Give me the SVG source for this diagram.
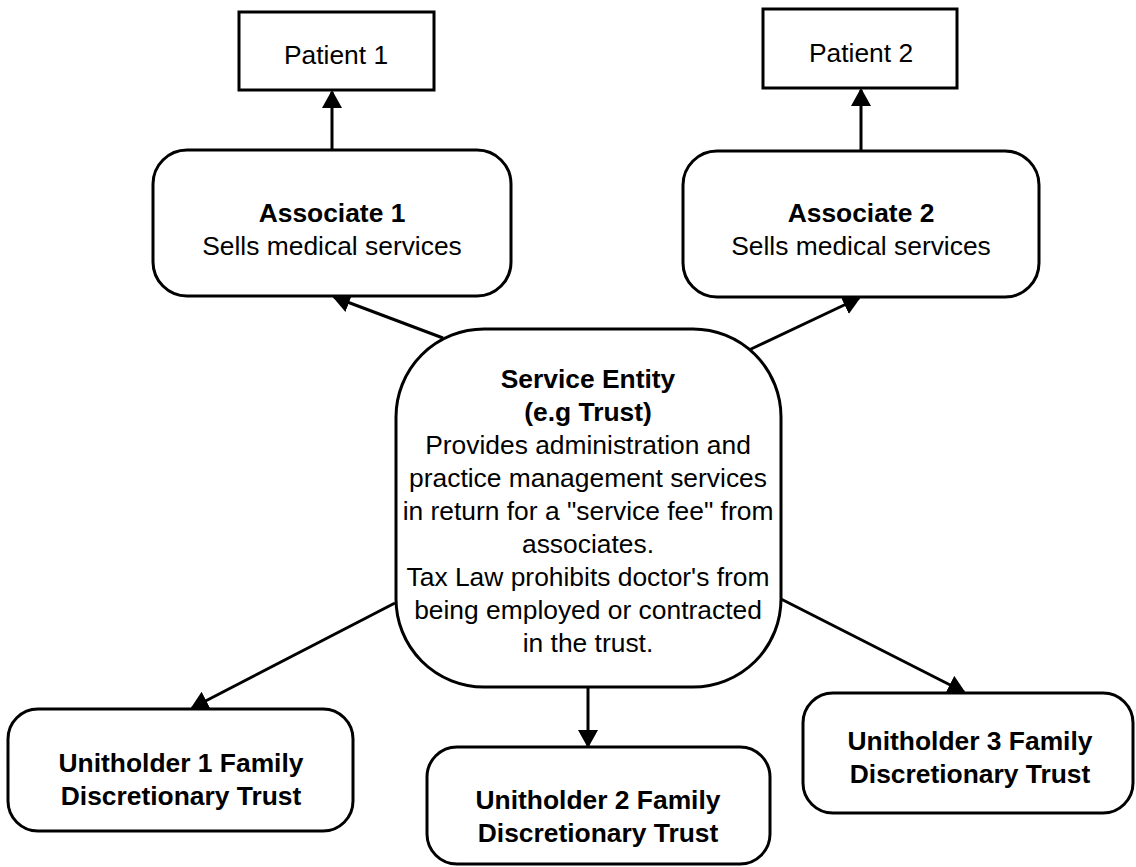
<svg xmlns="http://www.w3.org/2000/svg" width="1136" height="867" viewBox="0 0 1136 867">
<style>
.box{fill:#fff;stroke:#000;stroke-width:3}
.t{font-family:"Liberation Sans",Arial,sans-serif;font-size:26.4px;fill:#000;text-anchor:middle}
.b{font-weight:bold}
.c{stroke:#000;stroke-width:3;fill:none;marker-end:url(#ah)}
</style>
<defs>
<marker id="ah" viewBox="0 0 18 20" refX="16" refY="10" markerWidth="18" markerHeight="20" markerUnits="userSpaceOnUse" orient="auto">
<path d="M0,0 L18,10 L0,20 z" fill="#000"/>
</marker>
</defs>
<rect width="1136" height="867" fill="#fff"/>
<g id="connectors">
<line class="c" x1="332" y1="150" x2="332" y2="92"/>
<line class="c" x1="861" y1="151" x2="861" y2="90"/>
<line class="c" x1="443" y1="338" x2="334" y2="297"/>
<line class="c" x1="749" y1="350" x2="859" y2="298"/>
<line class="c" x1="395" y1="603" x2="192" y2="708"/>
<line class="c" x1="588" y1="687" x2="588" y2="746"/>
<line class="c" x1="781" y1="599" x2="964" y2="692"/>
</g>
<g id="patient1">
<rect class="box" x="239" y="12" width="195" height="78"/>
<text class="t" x="336" y="64">Patient 1</text>
</g>
<g id="patient2">
<rect class="box" x="763" y="9" width="194" height="79"/>
<text class="t" x="861" y="62">Patient 2</text>
</g>
<g id="associate1">
<rect class="box" x="153" y="150" width="358" height="146" rx="34"/>
<text class="t b" x="332" y="222">Associate 1</text>
<text class="t" x="332" y="255">Sells medical services</text>
</g>
<g id="associate2">
<rect class="box" x="683" y="151" width="356" height="146" rx="34"/>
<text class="t b" x="861" y="222">Associate 2</text>
<text class="t" x="861" y="255">Sells medical services</text>
</g>
<g id="service">
<rect class="box" x="396" y="329" width="385" height="358" rx="88"/>
<text class="t b" x="588" y="388">Service Entity</text>
<text class="t b" x="588" y="421">(e.g Trust)</text>
<text class="t" x="588" y="454">Provides administration and</text>
<text class="t" x="588" y="487">practice management services</text>
<text class="t" x="588" y="520">in return for a "service fee" from</text>
<text class="t" x="588" y="553">associates.</text>
<text class="t" x="588" y="586">Tax Law prohibits doctor's from</text>
<text class="t" x="588" y="619">being employed or contracted</text>
<text class="t" x="588" y="652">in the trust.</text>
</g>
<g id="unitholder1">
<rect class="box" x="8" y="709" width="345" height="122" rx="30"/>
<text class="t b" x="181" y="772">Unitholder 1 Family</text>
<text class="t b" x="181" y="805">Discretionary Trust</text>
</g>
<g id="unitholder2">
<rect class="box" x="427" y="747" width="343" height="117" rx="30"/>
<text class="t b" x="598" y="809">Unitholder 2 Family</text>
<text class="t b" x="598" y="842">Discretionary Trust</text>
</g>
<g id="unitholder3">
<rect class="box" x="803" y="693" width="330" height="120" rx="30"/>
<text class="t b" x="970" y="750">Unitholder 3 Family</text>
<text class="t b" x="970" y="783">Discretionary Trust</text>
</g>
</svg>
